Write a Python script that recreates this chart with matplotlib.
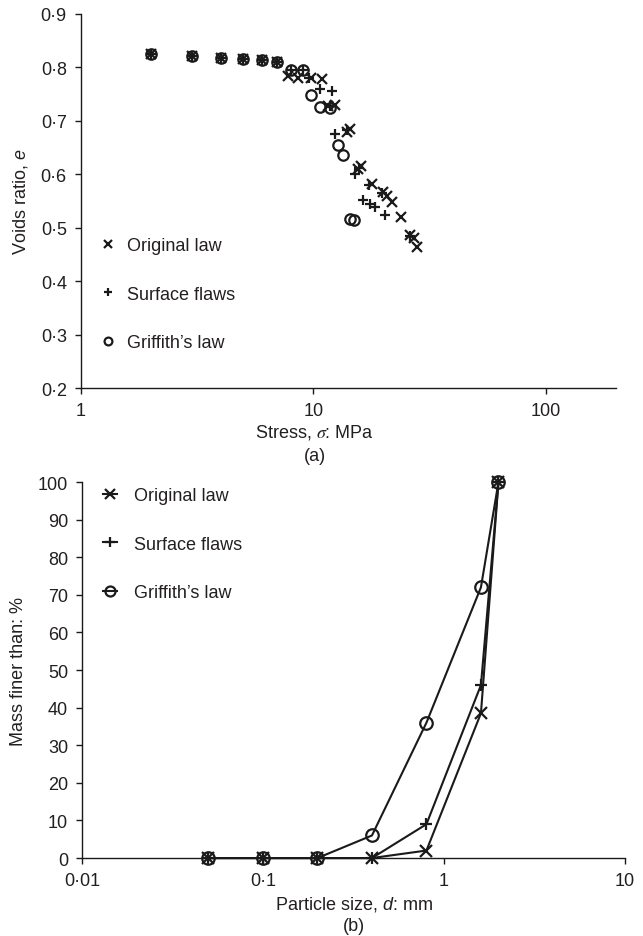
import numpy as np
import matplotlib
matplotlib.use("Agg")
import matplotlib.pyplot as plt
from matplotlib.ticker import FixedLocator, FuncFormatter, NullLocator

plt.rcParams['font.family'] = ['Liberation Sans', 'DejaVu Sans']
plt.rcParams['mathtext.fontset'] = 'custom'
plt.rcParams['mathtext.rm'] = 'Liberation Sans'
plt.rcParams['mathtext.it'] = 'Liberation Sans:italic'
plt.rcParams['font.size'] = 13
TXT = '#231f20'
INK = '#1a1a1a'

# (a) voids ratio vs stress
orig_s = [2, 3, 4, 5, 6, 7, 7.8, 8.6, 9.8, 10.9, 11.6, 12.4, 13.9, 14.4, 15.6, 16.1,
          17.8, 20.0, 20.8, 21.7, 23.9, 26.0, 27.2, 27.8]
orig_e = [0.825, 0.822, 0.818, 0.815, 0.813, 0.810, 0.784, 0.780, 0.780, 0.779, 0.728, 0.730,
          0.680, 0.685, 0.610, 0.615, 0.582, 0.567, 0.560, 0.548, 0.520, 0.486, 0.480, 0.464]
surf_s = [2, 3, 4, 5, 6, 7, 8, 9, 9.6, 10.7, 12.0, 11.8, 12.4, 14.0, 15.1, 15.7, 16.4,
          17.3, 17.5, 18.4, 19.8, 20.3, 26.0]
surf_e = [0.825, 0.822, 0.818, 0.815, 0.813, 0.810, 0.795, 0.795, 0.781, 0.760, 0.755, 0.728,
          0.676, 0.682, 0.600, 0.612, 0.551, 0.580, 0.545, 0.539, 0.565, 0.523, 0.484]
grif_s = [2, 3, 4, 5, 6, 7, 8, 9, 9.8, 10.7, 11.8, 12.8, 13.4, 14.4, 14.9]
grif_e = [0.825, 0.822, 0.818, 0.815, 0.813, 0.810, 0.795, 0.795, 0.749, 0.726, 0.724,
          0.654, 0.636, 0.517, 0.514]

# (b) grading curves
size_mm = [0.05, 0.1, 0.2, 0.4, 0.8, 1.6, 2.0]
orig_pct = [0, 0, 0, 0, 2, 38.5, 100]
surf_pct = [0, 0, 0, 0, 9, 46, 100]
grif_pct = [0, 0, 0, 6, 36, 72, 100]

labels = ['Original law', 'Surface flaws', 'Griffith\u2019s law']


def dotfmt(v, pos):
    s = ('%g' % v)
    return s.replace('.', '\u00b7')


def style(ax):
    for s in ['top', 'right']:
        ax.spines[s].set_visible(False)
    for s in ['left', 'bottom']:
        ax.spines[s].set_linewidth(1.0)
        ax.spines[s].set_color(INK)
    ax.tick_params(direction='out', length=4, width=1.0, colors=INK, labelcolor=TXT,
                   labelsize=13, pad=6)
    ax.xaxis.set_minor_locator(NullLocator())


fig = plt.figure(figsize=(6.43, 9.37), dpi=100)

ax1 = fig.add_axes([0.1255, 0.5848, 0.8325, 0.3992])
kw = dict(linestyle='none', color=INK, markersize=7.5, mew=1.6, clip_on=False)
ax1.plot(orig_s, orig_e, marker='x', label=labels[0], **kw)
ax1.plot(surf_s, surf_e, marker='+', label=labels[1], **kw)
ax1.plot(grif_s, grif_e, marker='o', mfc='none', label=labels[2], **kw)
ax1.set_xscale('log')
ax1.set_xlim(1, 200)
ax1.set_ylim(0.2, 0.9)
ax1.xaxis.set_major_locator(FixedLocator([1, 10, 100]))
ax1.xaxis.set_major_formatter(FuncFormatter(lambda v, p: '%g' % v))
ax1.yaxis.set_major_locator(FixedLocator(np.arange(0.2, 0.91, 0.1)))
ax1.yaxis.set_major_formatter(FuncFormatter(lambda v, p: ('%.1f' % v).replace('.', '\u00b7')))
style(ax1)
ax1.set_ylabel('Voids ratio, $e$', color=TXT, fontsize=13, labelpad=8)
leg1 = ax1.legend(loc='center left', bbox_to_anchor=(0.034, 0.251), frameon=False,
                  handlelength=1.0, handletextpad=0.55, labelspacing=1.75,
                  borderpad=0, borderaxespad=0, fontsize=13, markerscale=0.75)
for t in leg1.get_texts():
    t.set_color(TXT)
fig.text(315 / 643, 1 - 433 / 937, 'Stress, $\\sigma$: MPa', ha='center', va='center',
         color=TXT, fontsize=13, math_fontfamily='stix')
fig.text(315 / 643, 1 - 457 / 937, '(a)', ha='center', va='center', color=TXT, fontsize=13)

ax2 = fig.add_axes([0.1275, 0.0832, 0.8445, 0.4013])
kw2 = dict(color=INK, linewidth=1.5, markersize=9, mew=1.6, clip_on=False)
ax2.plot(size_mm, orig_pct, marker='x', label=labels[0], **kw2)
ax2.plot(size_mm, surf_pct, marker='+', label=labels[1], **kw2)
ax2.plot(size_mm, grif_pct, marker='o', mfc='none', label=labels[2], **kw2)
ax2.set_xscale('log')
ax2.set_xlim(0.01, 10)
ax2.set_ylim(0, 100)
ax2.xaxis.set_major_locator(FixedLocator([0.01, 0.1, 1, 10]))
ax2.xaxis.set_major_formatter(FuncFormatter(dotfmt))
ax2.yaxis.set_major_locator(FixedLocator(np.arange(0, 101, 10)))
style(ax2)
ax2.set_ylabel('Mass finer than: %', color=TXT, fontsize=13, labelpad=8)
leg2 = ax2.legend(loc='center left', bbox_to_anchor=(0.0387, 0.835), frameon=False,
                  handlelength=0.8, handletextpad=0.9, labelspacing=1.75,
                  borderpad=0, borderaxespad=0, fontsize=13, markerscale=0.8)
for t in leg2.get_texts():
    t.set_color(TXT)
fig.text(353.5 / 643, 1 - 905 / 937, 'Particle size, $d$: mm', ha='center', va='center',
         color=TXT, fontsize=13)
fig.text(353.5 / 643, 1 - 927 / 937, '(b)', ha='center', va='center', color=TXT, fontsize=13)

fig.savefig('out.png', dpi=100)
